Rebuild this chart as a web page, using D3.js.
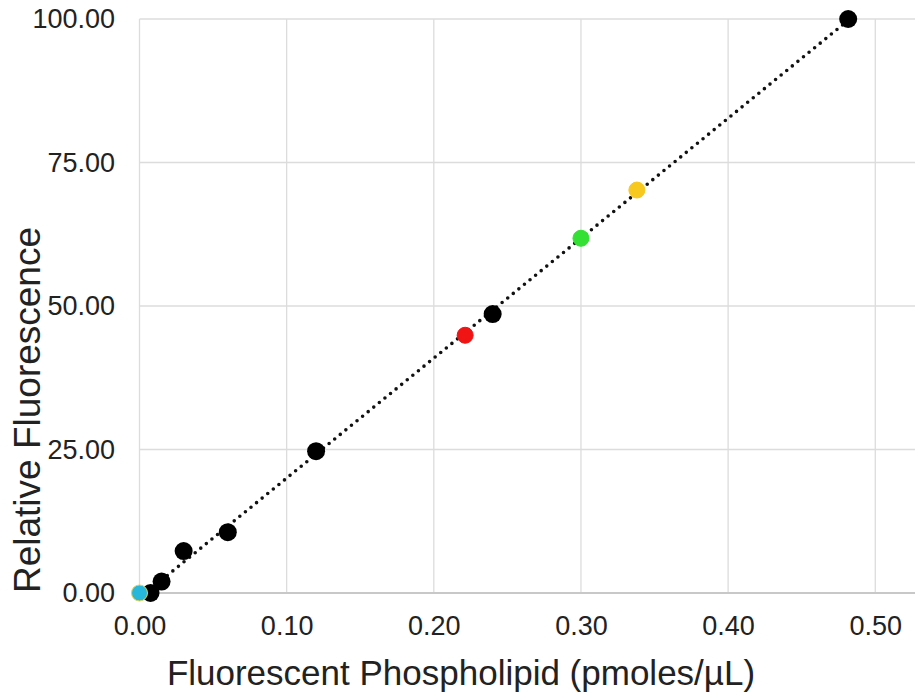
<!DOCTYPE html>
<html>
<head>
<meta charset="utf-8">
<script src="https://cdn.jsdelivr.net/npm/d3@7"></script>
<style>
  body { margin: 0; background: #fff; }
  text { font-family: "Liberation Sans", Arial, sans-serif; fill: #222; }
</style>
</head>
<body>
<script>
// calibration points (black) and the coloured samples
var blackX = [0.0075, 0.015, 0.03, 0.06, 0.12, 0.24, 0.4816];
var blackY = [0.0, 2.0, 7.3, 10.6, 24.7, 48.6, 100.0];
var sampleX = [0.0, 0.2213, 0.30, 0.338];
var sampleY = [0.0, 44.9, 61.8, 70.2];
var sampleColors = ["#27b7dc", "#f01414", "#33e033", "#f7c81e"];
var sampleStrokes = ["#e8d24a", "#f01414", "#33e033", "#f7c81e"];
var xTicks = [0, 0.1, 0.2, 0.3, 0.4, 0.5];
var yTicks = [0, 25, 50, 75, 100];
var xTitle = "Fluorescent Phospholipid (pmoles/\u00b5L)";
var yTitle = "Relative Fluorescence";

var width = 922, height = 700;
var margin = {left: 139.5, right: 7, top: 19, bottom: 107};

var svg = d3.select("body").append("svg")
	.attr("width", width)
	.attr("height", height);

var x = d3.scaleLinear().domain([0, 0.527]).range([margin.left, width - margin.right]);
var y = d3.scaleLinear().domain([0, 100]).range([height - margin.bottom, margin.top]);

// gridlines
svg.append("g")
	.selectAll("line.vgrid")
	.data(xTicks)
	.enter()
	.append("line")
	.attr("x1", function (d) { return x(d); })
	.attr("x2", function (d) { return x(d); })
	.attr("y1", y(100))
	.attr("y2", y(0))
	.style("stroke", "#dcdcdc")
	.style("stroke-width", 1.3);

svg.append("g")
	.selectAll("line.hgrid")
	.data(yTicks)
	.enter()
	.append("line")
	.attr("x1", x(0))
	.attr("x2", x.range()[1])
	.attr("y1", function (d) { return y(d); })
	.attr("y2", function (d) { return y(d); })
	.style("stroke", function (d) { return d === 0 ? "#c8c8c8" : "#dcdcdc"; })
	.style("stroke-width", function (d) { return d === 0 ? 2 : 1.3; });

// axes (labels only)
var xAxis = svg.append("g")
	.attr("transform", "translate(0," + y(0) + ")")
	.call(d3.axisBottom(x).tickValues(xTicks).tickFormat(d3.format(".2f")).tickSize(0).tickPadding(23));
var yAxis = svg.append("g")
	.attr("transform", "translate(" + (x(0) - 24.5) + ",0)")
	.call(d3.axisLeft(y).tickValues(yTicks).tickFormat(d3.format(".2f")).tickSize(0).tickPadding(0));
[xAxis, yAxis].forEach(function (a) {
	a.select(".domain").remove();
	a.selectAll("text")
		.style("font-size", "27px")
		.style("font-family", "Liberation Sans, Arial, sans-serif")
		.attr("fill", "#222");
});

// least squares trend line through the black points
var mx = d3.mean(blackX),
	my = d3.mean(blackY),
	sxy = d3.sum(blackX, function (v, i) { return (v - mx) * (blackY[i] - my); }),
	sxx = d3.sum(blackX, function (v) { return (v - mx) * (v - mx); }),
	slope = sxy / sxx,
	icpt = my - slope * mx;
var trend = [d3.min(blackX), d3.max(blackX)].map(function (v) { return [v, icpt + slope * v]; });

svg.append("path")
	.datum(trend)
	.attr("d", d3.line().x(function (d) { return x(d[0]); }).y(function (d) { return y(d[1]); }))
	.style("fill", "none")
	.style("stroke", "#111")
	.style("stroke-width", 3.6)
	.style("stroke-linecap", "round")
	.style("stroke-dasharray", "0 7.2");

// points
svg.append("g")
	.selectAll("circle.black")
	.data(blackX)
	.enter()
	.append("circle")
	.attr("cx", function (d) { return x(d); })
	.attr("cy", function (d, i) { return y(blackY[i]); })
	.attr("r", 9)
	.style("fill", "#000");

svg.append("g")
	.selectAll("circle.sample")
	.data(sampleX)
	.enter()
	.append("circle")
	.attr("cx", function (d) { return x(d); })
	.attr("cy", function (d, i) { return y(sampleY[i]); })
	.attr("r", 8)
	.style("fill", function (d, i) { return sampleColors[i]; })
	.style("stroke", function (d, i) { return sampleStrokes[i]; })
	.style("stroke-width", 1);

// axis titles
svg.append("text")
	.text(xTitle)
	.attr("x", 461)
	.attr("y", 685)
	.attr("text-anchor", "middle")
	.style("font-size", "35px");

svg.append("text")
	.text(yTitle)
	.attr("transform", "translate(40,410) rotate(-90)")
	.attr("text-anchor", "middle")
	.style("font-size", "37px");
</script>
</body>
</html>
